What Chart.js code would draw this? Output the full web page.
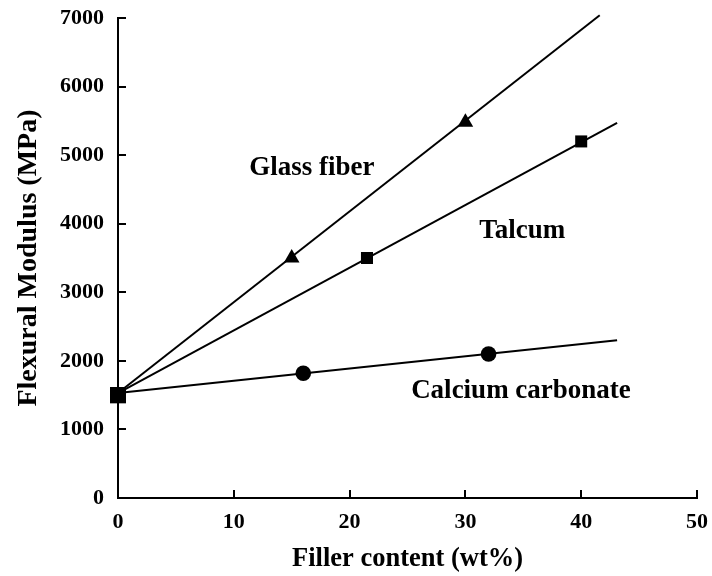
<!DOCTYPE html>
<html>
<head>
<meta charset="utf-8">
<title>Flexural modulus vs filler content</title>
<script src="https://cdn.jsdelivr.net/npm/chart.js@4.4.1/dist/chart.umd.min.js"></script>
<style>
  html, body { margin: 0; padding: 0; background: #fff; }
  canvas { display: block; }
</style>
</head>
<body>
<canvas id="chart" width="712" height="576"></canvas>
<script>
// Measured flexural modulus (MPa) against filler loading (wt%)
const glassX = [0, 15, 30];
const glassY = [1500, 3500, 5480];
const talcX = [0, 21.5, 40];
const talcY = [1500, 3500, 5200];
const carbonateX = [0, 16, 32];
const carbonateY = [1500, 1820, 2100];

// Straight-line fits through each filler series
const glassFitX = [0, 41.6];
const glassFitY = [1530, 7040];
const talcFitX = [0, 43.1];
const talcFitY = [1530, 5470];
const carbonateFitX = [0, 43.1];
const carbonateFitY = [1530, 2300];

// Axis ticks
const xTicks = [0, 10, 20, 30, 40, 50];
const yTicks = [0, 1000, 2000, 3000, 4000, 5000, 6000, 7000];

// Series names written next to their lines
const seriesNames = ['Glass fiber', 'Talcum', 'Calcium carbonate'];
const nameAtX = [16.75, 34.9, 34.8];
const nameAtY = [4710, 3790, 1460];

const FONT = '"Liberation Serif", "Times New Roman", serif';
const INK = '#000';
const TICK_LEN = 8;

function toPoints(xs, ys) {
  return xs.map((x, i) => ({ x: x, y: ys[i] }));
}

// Filler-free reference sample is drawn as one larger square
const bigAtZero = (style, r) => ({
  pointStyle: ctx => ctx.dataIndex === 0 ? 'rect' : style,
  pointRadius: ctx => ctx.dataIndex === 0 ? 11.3 : r,
  pointHoverRadius: ctx => ctx.dataIndex === 0 ? 11.3 : r
});

function markers(label, xs, ys, style, r) {
  return Object.assign({
    label: label,
    data: toPoints(xs, ys),
    showLine: false,
    backgroundColor: INK,
    borderColor: INK,
    borderWidth: 0,
    clip: false
  }, bigAtZero(style, r));
}

function fitLine(label, xs, ys) {
  return {
    label: label,
    data: toPoints(xs, ys),
    showLine: true,
    borderColor: INK,
    borderWidth: 2,
    pointRadius: 0,
    pointHoverRadius: 0,
    fill: false,
    clip: false
  };
}

// Tick marks pointing into the plot area
const inwardTicksPlugin = {
  id: 'inwardTicks',
  afterDatasetsDraw(chart) {
    const { ctx, chartArea, scales } = chart;
    ctx.save();
    ctx.strokeStyle = INK;
    ctx.lineWidth = 2;
    ctx.beginPath();
    scales.x.ticks.forEach(t => {
      if (t.value === 0) return;
      const px = Math.round(scales.x.getPixelForValue(t.value));
      ctx.moveTo(px, chartArea.bottom);
      ctx.lineTo(px, chartArea.bottom - TICK_LEN);
    });
    scales.y.ticks.forEach(t => {
      if (t.value === 0) return;
      const py = Math.round(scales.y.getPixelForValue(t.value));
      ctx.moveTo(chartArea.left, py);
      ctx.lineTo(chartArea.left + TICK_LEN, py);
    });
    ctx.stroke();
    ctx.restore();
  }
};

// Writes the series names at data coordinates
const seriesNamePlugin = {
  id: 'seriesNames',
  afterDatasetsDraw(chart) {
    const { ctx, scales } = chart;
    ctx.save();
    ctx.fillStyle = INK;
    ctx.font = 'bold 27px ' + FONT;
    ctx.textAlign = 'center';
    ctx.textBaseline = 'alphabetic';
    seriesNames.forEach((name, i) => {
      ctx.fillText(name, scales.x.getPixelForValue(nameAtX[i]), scales.y.getPixelForValue(nameAtY[i]));
    });
    ctx.restore();
  }
};

new Chart(document.getElementById('chart'), {
  type: 'scatter',
  data: {
    datasets: [
      fitLine('Glass fiber fit', glassFitX, glassFitY),
      fitLine('Talcum fit', talcFitX, talcFitY),
      fitLine('Calcium carbonate fit', carbonateFitX, carbonateFitY),
      markers('Glass fiber', glassX, glassY, 'triangle', 9),
      markers('Talcum', talcX, talcY, 'rect', 8.5),
      markers('Calcium carbonate', carbonateX, carbonateY, 'circle', 7.8)
    ]
  },
  options: {
    responsive: false,
    animation: false,
    devicePixelRatio: 1,
    layout: { padding: { left: 0, top: 18, right: 15, bottom: 0 } },
    plugins: {
      legend: { display: false },
      tooltip: { enabled: false }
    },
    scales: {
      x: {
        type: 'linear',
        min: 0,
        max: 50,
        afterBuildTicks: scale => { scale.ticks = xTicks.map(v => ({ value: v })); },
        afterFit: scale => {
          scale.height = 78;
          scale.paddingLeft = 0;
          scale.paddingRight = 0;
        },
        border: { display: true, color: INK, width: 2 },
        grid: { display: false, drawOnChartArea: false, drawTicks: false },
        ticks: {
          color: INK,
          padding: 11,
          maxRotation: 0,
          callback: v => String(v),
          font: { family: FONT, size: 22, weight: 'bold' }
        },
        title: {
          display: true,
          text: 'Filler content (wt%)',
          color: INK,
          padding: { top: 0, bottom: 1 },
          font: { family: FONT, size: 26.5, weight: 'bold' }
        }
      },
      y: {
        type: 'linear',
        min: 0,
        max: 7000,
        afterBuildTicks: scale => { scale.ticks = yTicks.map(v => ({ value: v })); },
        afterFit: scale => {
          scale.width = 118;
          scale.paddingTop = 0;
          scale.paddingBottom = 0;
        },
        border: { display: true, color: INK, width: 2 },
        grid: { display: false, drawOnChartArea: false, drawTicks: false },
        ticks: {
          color: INK,
          padding: 14,
          callback: v => String(v),
          font: { family: FONT, size: 22, weight: 'bold' }
        },
        title: {
          display: true,
          text: 'Flexural Modulus (MPa)',
          color: INK,
          padding: { top: 12, bottom: 0 },
          font: { family: FONT, size: 28, weight: 'bold' }
        }
      }
    }
  },
  plugins: [inwardTicksPlugin, seriesNamePlugin]
});
</script>
</body>
</html>
